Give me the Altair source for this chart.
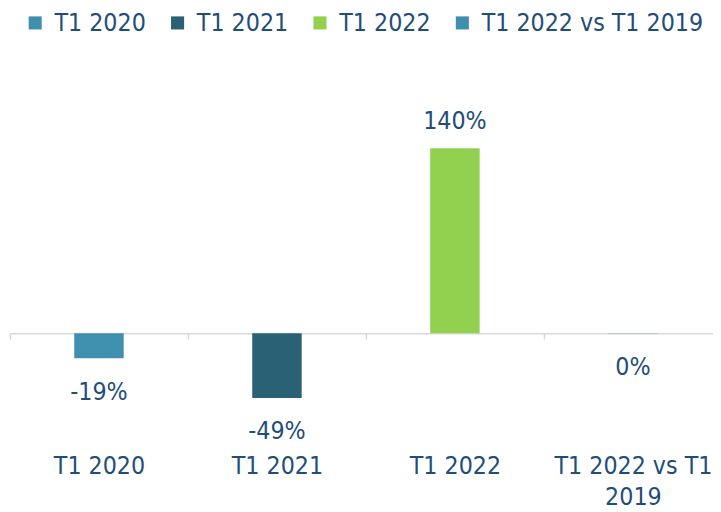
import altair as alt
import pandas as pd

categories = ["T1 2020", "T1 2021", "T1 2022", "T1 2022 vs T1 2019"]
values = [-19, -49, 140, -0.3]
labels = ["-19%", "-49%", "140%", "0%"]
colors = ["#3F8FAE", "#2A6175", "#92D050", "#3F8FAE"]

df = pd.DataFrame({"cat": categories, "v": values, "lab": labels})

FONT = "DejaVu Sans Condensed, sans-serif"
FS = 25
TXT = "#1F4E79"
H = 347.4
ZERO_FROM_BOTTOM = 80 * H / 260.0

x_enc = alt.X(
    "cat:N",
    sort=categories,
    scale=alt.Scale(paddingInner=0, paddingOuter=0),
    axis=alt.Axis(
        title=None,
        orient="bottom",
        offset=-ZERO_FROM_BOTTOM,
        labelPadding=ZERO_FROM_BOTTOM + 9,
        labelAngle=0,
        labelFont=FONT,
        labelFontSize=FS,
        labelColor=TXT,
        labelLineHeight=31,
        labelLimit=400,
        labelExpr="datum.label == 'T1 2022 vs T1 2019' ? ['T1 2022 vs T1', '2019'] : datum.label",
        domainColor="#D9D9D9",
        domainWidth=1.5,
        tickColor="#D9D9D9",
        tickWidth=1.5,
        tickSize=6,
        tickBand="extent",
    ),
)
y_scale = alt.Scale(domain=[-80, 180], nice=False, zero=False)

bars = alt.Chart(df).mark_bar(size=50).encode(
    x=x_enc,
    y=alt.Y("v:Q", scale=y_scale, axis=None),
    color=alt.Color(
        "cat:N",
        sort=categories,
        scale=alt.Scale(domain=categories, range=colors),
        legend=alt.Legend(
            title=None,
            orient="none",
            legendX=13,
            legendY=-86,
            direction="horizontal",
            symbolType="square",
            symbolSize=175,
            symbolStrokeWidth=0,
            labelFont=FONT,
            labelFontSize=FS,
            labelColor=TXT,
            labelOffset=7,
            columnPadding=19,
            labelLimit=400,
        ),
    ),
)

pos_text = alt.Chart(df).transform_filter("datum.v > 0").mark_text(
    font=FONT, fontSize=FS, color=TXT, baseline="middle", dy=-27
).encode(x=alt.X("cat:N", sort=categories), y=alt.Y("v:Q", scale=y_scale), text="lab:N")

neg_text = alt.Chart(df).transform_filter("datum.v <= 0").mark_text(
    font=FONT, fontSize=FS, color=TXT, baseline="middle", dy=34
).encode(x=alt.X("cat:N", sort=categories), y=alt.Y("v:Q", scale=y_scale), text="lab:N")

chart = (
    alt.layer(bars, pos_text, neg_text)
    .properties(
        width=720,
        height=H,
        autosize=alt.AutoSizeParams(type="none"),
        padding={"left": 2, "top": 85.5, "right": -9, "bottom": 70},
    )
    .configure_view(stroke=None)
)

chart.save("out.html", embed_options={"renderer": "svg", "actions": False})
